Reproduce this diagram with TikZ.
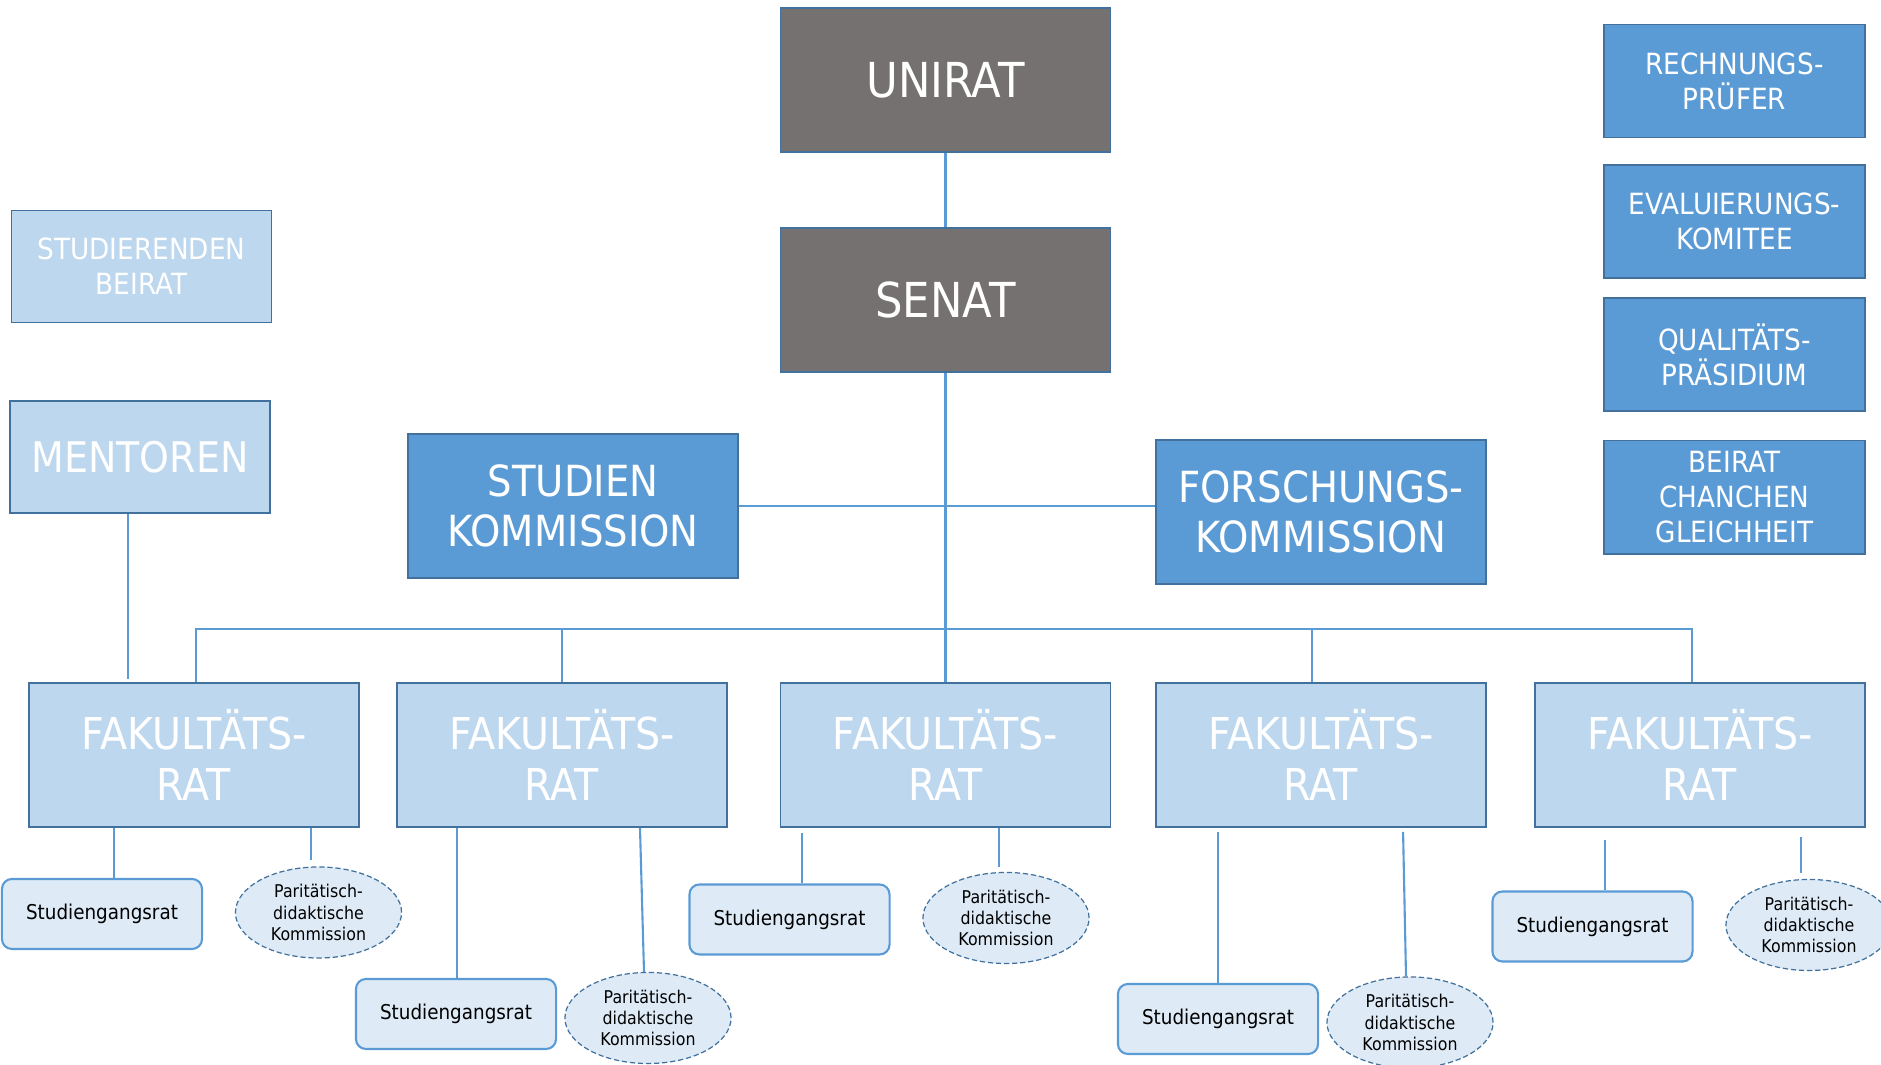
\documentclass[tikz,border=0pt]{standalone}
\usepackage{fontspec}
\setmainfont{DejaVu Sans}[FakeStretch=0.9]
\usetikzlibrary{positioning,shapes}
\definecolor{gremium}{HTML}{767171}
\definecolor{rand}{HTML}{41719C}
\definecolor{mittelblau}{HTML}{5B9BD5}
\definecolor{hellblau}{HTML}{BDD7EE}
\definecolor{blassblau}{HTML}{DEEBF7}
\tikzstyle{leitung}=[rectangle,draw=rand,line width=0.5pt,fill=gremium,text=white,
minimum width=3.3cm,minimum height=1.44cm,inner sep=0pt,font=\fontsize{13.7}{16}\selectfont]
\tikzstyle{kommission}=[rectangle,draw=rand,line width=0.5pt,fill=mittelblau,text=white,
minimum width=3.3cm,minimum height=1.44cm,inner sep=0pt,align=center,font=\fontsize{12.2}{14.3}\selectfont]
\tikzstyle{fakrat}=[rectangle,draw=rand,line width=0.5pt,fill=hellblau,text=white,
minimum width=3.3cm,minimum height=1.44cm,inner sep=0pt,align=center,font=\fontsize{12.5}{14.3}\selectfont]
\tikzstyle{beirat}=[rectangle,draw=rand,line width=0.5pt,fill=hellblau,text=white,
minimum width=2.6cm,minimum height=1.12cm,inner sep=0pt,align=center,font=\fontsize{8.3}{10}\selectfont]
\tikzstyle{stabsstelle}=[rectangle,draw=rand,line width=0.5pt,fill=mittelblau,text=white,
minimum width=2.61cm,minimum height=1.13cm,inner sep=0pt,align=center,font=\fontsize{8.3}{10}\selectfont]
\tikzstyle{sgrat}=[rectangle,rounded corners=0.1cm,draw=mittelblau,line width=0.6pt,fill=blassblau,
minimum width=2cm,minimum height=0.7cm,inner sep=0pt,font=\fontsize{5.8}{7}\selectfont]
\tikzstyle{pdk}=[ellipse,draw=rand,dash pattern=on 1.5pt off 0.8pt,line width=0.35pt,fill=blassblau,
minimum width=1.66cm,minimum height=0.91cm,inner sep=0pt,align=center,font=\fontsize{5}{6}\selectfont]
\tikzstyle{linie}=[draw=mittelblau,line width=0.6pt]

\begin{document}
\begin{tikzpicture}[x=0.01cm,y=-0.01cm]
            \useasboundingbox (0,0) rectangle (1881,1065);

            % LEITUNG

            \node[leitung] at (945.5,80) (unirat) {UNIRAT};
            \node[leitung, below=0.74cm of unirat] (senat) {SENAT};
            \node[kommission] at (573,506) (studien) {STUDIEN\\KOMMISSION};
            \node[kommission] at (1321,512) (forschung) {FORSCHUNGS-\\KOMMISSION};

            \path[linie] (unirat) edge (senat);
            \path[linie] (studien.east) edge (forschung.west |- studien.east);

            % LINKS

            \node[beirat] at (141.5,266.5) (stbeirat) {STUDIERENDEN\\BEIRAT};
            \node[beirat, font=\fontsize{12}{14}\selectfont] at (140,457) (mentoren) {MENTOREN};

            % RECHTS

            \node[stabsstelle] at (1734.5,81) (rechnung) {RECHNUNGS-\\PRÜFER};
            \node[stabsstelle, below=0.255cm of rechnung] (evaluierung) {EVALUIERUNGS-\\KOMITEE};
            \node[stabsstelle, below=0.185cm of evaluierung] (qualitaet) {QUALITÄTS-\\PRÄSIDIUM};
            \node[stabsstelle, below=0.276cm of qualitaet] (chancen) {BEIRAT\\CHANCHEN\\GLEICHHEIT};

            % FAKULTAETEN

            \node[fakrat] at (194,755) (fak1) {FAKULTÄTS-\\RAT};
            \node[fakrat] at (562,755) (fak2) {FAKULTÄTS-\\RAT};
            \node[fakrat] at (945.5,755) (fak3) {FAKULTÄTS-\\RAT};
            \node[fakrat] at (1321,755) (fak4) {FAKULTÄTS-\\RAT};
            \node[fakrat] at (1700,755) (fak5) {FAKULTÄTS-\\RAT};

            \coordinate (bus) at (945.5,629);

            \path[linie] (senat) edge (fak3);
            \draw[linie] ([xshift=0.02cm]fak1.north) |- (bus) -| ([xshift=-0.08cm]fak5.north);
            \path[linie] (fak2.north) edge (fak2.north |- bus);
            \path[linie] ([xshift=-0.09cm]fak4.north) edge ([xshift=-0.09cm]fak4.north |- bus);
            \path[linie] ([xshift=-0.12cm]mentoren.south) edge[shorten >=0.03cm] ([xshift=-0.12cm]mentoren.south |- fak1.north);

            % STUDIENGANGSRAT UND KOMMISSION

            \node[sgrat] at (102,914) (sg1) {Studiengangsrat};
            \node[pdk] at (318.5,912.5) (pk1) {Paritätisch-\\didaktische\\Kommission};
            \node[sgrat] at (456,1014) (sg2) {Studiengangsrat};
            \node[pdk] at (648,1018) (pk2) {Paritätisch-\\didaktische\\Kommission};
            \node[sgrat] at (789.5,919.5) (sg3) {Studiengangsrat};
            \node[pdk] at (1006,918) (pk3) {Paritätisch-\\didaktische\\Kommission};
            \node[sgrat] at (1218,1019) (sg4) {Studiengangsrat};
            \node[pdk] at (1410,1022.5) (pk4) {Paritätisch-\\didaktische\\Kommission};
            \node[sgrat] at (1592.5,926.5) (sg5) {Studiengangsrat};
            \node[pdk] at (1809,925) (pk5) {Paritätisch-\\didaktische\\Kommission};

            \path[linie] ([xshift=0.12cm]sg1.north) edge ([xshift=0.12cm]sg1.north |- fak1.south);
            \path[linie] ([xshift=-0.075cm]pk1.north) edge[shorten <=0.06cm] ([xshift=-0.075cm]pk1.north |- fak1.south);
            \path[linie] ([xshift=0.01cm]sg2.north) edge ([xshift=0.01cm]sg2.north |- fak2.south);
            \path[linie] ([xshift=-0.04cm]pk2.north) edge ([xshift=-0.08cm]pk2.north |- fak2.south);
            \path[linie] ([xshift=0.125cm]sg3.north) edge[shorten >=0.05cm] ([xshift=0.125cm]sg3.north |- fak3.south);
            \path[linie] ([xshift=-0.07cm]pk3.north) edge[shorten <=0.05cm] ([xshift=-0.07cm]pk3.north |- fak3.south);
            \path[linie] (sg4.north) edge[shorten >=0.04cm] (sg4.north |- fak4.south);
            \path[linie] ([xshift=-0.04cm]pk4.north) edge[shorten >=0.04cm] ([xshift=-0.07cm]pk4.north |- fak4.south);
            \path[linie] ([xshift=0.125cm]sg5.north) edge[shorten >=0.12cm] ([xshift=0.125cm]sg5.north |- fak5.south);
            \path[linie] ([xshift=-0.08cm]pk5.north) edge[shorten <=0.06cm, shorten >=0.09cm] ([xshift=-0.08cm]pk5.north |- fak5.south);

        \end{tikzpicture}
\end{document}
